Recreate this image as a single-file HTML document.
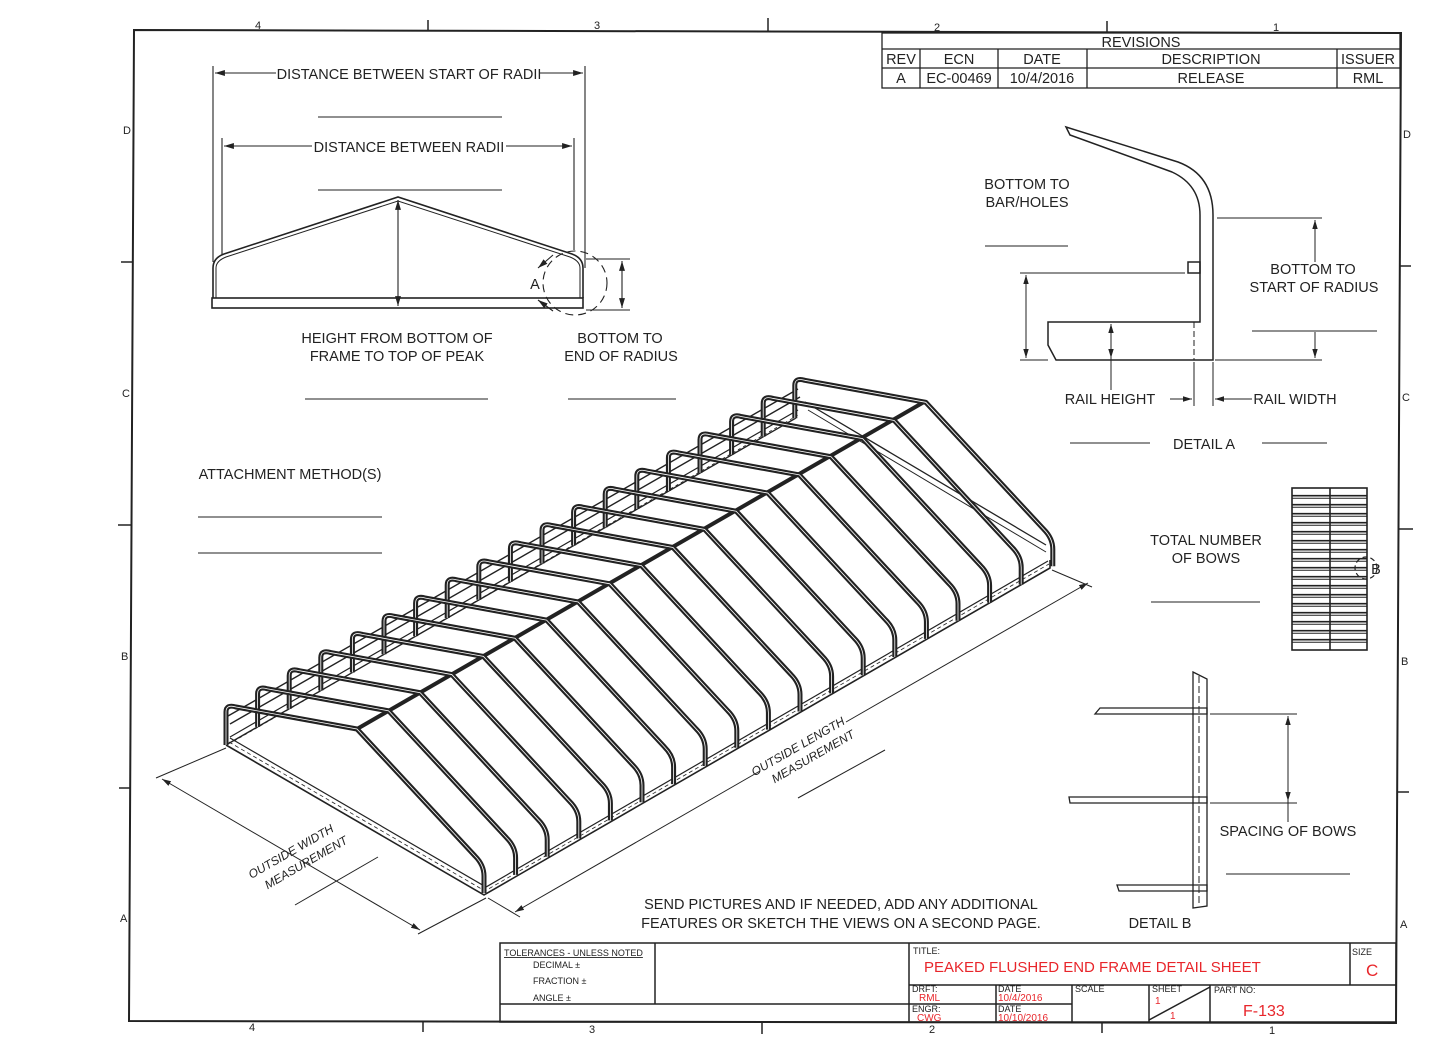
<!DOCTYPE html>
<html><head><meta charset="utf-8"><style>
html,body{margin:0;padding:0;background:#fff}
svg{display:block}
text{font-family:"Liberation Sans",sans-serif;fill:#222}
</style></head><body>
<svg id="s" width="1445" height="1050" viewBox="0 0 1445 1050" xmlns="http://www.w3.org/2000/svg">
<defs>
<marker id="ar" viewBox="0 0 10 10" refX="10" refY="5" markerWidth="9" markerHeight="9" orient="auto-start-reverse"><path d="M0,2 L10,5 L0,8 z" fill="#222"/></marker>
</defs>
<g stroke="#222" fill="none">
<polygon points="134,30 1401,33 1396,1023 129,1021" stroke-width="2"/>
<g stroke-width="1.5">
<line x1="428" y1="20" x2="428" y2="30"/><line x1="1107" y1="21" x2="1107" y2="32"/><line x1="768" y1="18" x2="768" y2="31"/>
<line x1="423" y1="1021" x2="423" y2="1032"/><line x1="1102" y1="1022" x2="1102" y2="1033"/><line x1="762" y1="1022" x2="762" y2="1034"/>
<line x1="121" y1="262" x2="133" y2="262"/><line x1="119" y1="788" x2="131" y2="788"/><line x1="118" y1="525" x2="132" y2="525"/>
<line x1="1400" y1="266" x2="1411" y2="266"/><line x1="1398" y1="792" x2="1409" y2="792"/><line x1="1399" y1="529" x2="1413" y2="529"/>
</g>
<g stroke-width="1.3">
<rect x="882" y="33" width="518" height="55"/>
<line x1="882" y1="49" x2="1400" y2="49"/><line x1="882" y1="68" x2="1400" y2="68"/>
<line x1="920" y1="49" x2="920" y2="88"/><line x1="998" y1="49" x2="998" y2="88"/><line x1="1087" y1="49" x2="1087" y2="88"/><line x1="1337" y1="49" x2="1337" y2="88"/>
</g>
<g stroke-width="1.5">
<rect x="500" y="943" width="896" height="79"/>
<line x1="655" y1="943" x2="655" y2="1004"/><line x1="909" y1="943" x2="909" y2="1022"/><line x1="1350" y1="943" x2="1350" y2="985"/>
<line x1="909" y1="985" x2="1396" y2="985"/><line x1="500" y1="1004" x2="909" y2="1004"/>
<line x1="909" y1="1004" x2="1072" y2="1004"/>
<line x1="996" y1="985" x2="996" y2="1022"/><line x1="1072" y1="985" x2="1072" y2="1022"/><line x1="1149" y1="985" x2="1149" y2="1022"/><line x1="1210" y1="985" x2="1210" y2="1022"/>
<line x1="1149" y1="1020" x2="1210" y2="987"/>
</g>
<g stroke-width="1.1">
<line x1="213" y1="66" x2="213" y2="262"/><line x1="585" y1="66" x2="585" y2="268"/>
<line x1="222" y1="138" x2="222" y2="255"/><line x1="574" y1="138" x2="574" y2="250"/>
<line x1="215" y1="73" x2="276" y2="73" marker-start="url(#ar)"/><line x1="540" y1="73" x2="583" y2="73" marker-end="url(#ar)"/>
<line x1="224" y1="146" x2="312" y2="146" marker-start="url(#ar)"/><line x1="506" y1="146" x2="572" y2="146" marker-end="url(#ar)"/>
<line x1="318" y1="117" x2="502" y2="117"/><line x1="318" y1="190" x2="502" y2="190"/>
<line x1="398" y1="200" x2="398" y2="306" marker-start="url(#ar)" marker-end="url(#ar)"/>
<line x1="586" y1="259" x2="630" y2="259"/><line x1="586" y1="310" x2="630" y2="310"/>
<line x1="622" y1="261" x2="622" y2="308" marker-start="url(#ar)" marker-end="url(#ar)"/>
<circle cx="575" cy="283" r="32" stroke-dasharray="8,5"/>
<line x1="553" y1="255" x2="538" y2="268" marker-end="url(#ar)"/><line x1="553" y1="311" x2="538" y2="300" marker-end="url(#ar)"/>
<line x1="305" y1="399" x2="488" y2="399"/><line x1="568" y1="399" x2="676" y2="399"/>
</g>
<g stroke-width="1.6">
<path d="M213,298 L213,268 Q213,258 224,254 L398,197 L572,254 Q583,258 583,268 L583,298"/>
<path d="M216,298 L216,268 Q216,261 226,257 L398,201 L570,257 Q580,261 580,268 L580,298" stroke-width="1"/>
<rect x="212" y="298" width="371" height="10"/>
</g>
<g stroke-width="1.5">
<path d="M1066,127 L1178,162 Q1213,175 1213,215 L1213,360 L1056,360 L1048,345 L1048,322 L1200,322 L1200,215 Q1200,185 1172,172 L1070,135 Z"/>
<rect x="1188" y="262" width="12" height="11"/>
</g>
<g stroke-width="1">
<line x1="1194" y1="322" x2="1194" y2="360" stroke-dasharray="6,3"/>
<line x1="1217" y1="218" x2="1322" y2="218"/><line x1="1215" y1="360" x2="1322" y2="360"/>
<line x1="1315" y1="262" x2="1315" y2="220" marker-end="url(#ar)"/><line x1="1315" y1="332" x2="1315" y2="358" marker-end="url(#ar)"/>
<line x1="1252" y1="331" x2="1377" y2="331"/>
<line x1="985" y1="246" x2="1068" y2="246"/><line x1="1020" y1="273" x2="1185" y2="273"/><line x1="1020" y1="360" x2="1048" y2="360"/>
<line x1="1026" y1="275" x2="1026" y2="358" marker-start="url(#ar)" marker-end="url(#ar)"/>
<line x1="1111" y1="324" x2="1111" y2="358" marker-start="url(#ar)" marker-end="url(#ar)"/><line x1="1111" y1="358" x2="1111" y2="390"/>
<line x1="1194" y1="362" x2="1194" y2="406"/><line x1="1213" y1="362" x2="1213" y2="406"/>
<line x1="1170" y1="399" x2="1192" y2="399" marker-end="url(#ar)"/><line x1="1252" y1="399" x2="1215" y2="399" marker-end="url(#ar)"/>
<line x1="1070" y1="443" x2="1150" y2="443"/><line x1="1262" y1="443" x2="1327" y2="443"/>
</g>
<g id="grid" stroke-width="1.6"><rect x="1292" y="488" width="75" height="162"/><line x1="1330" y1="488" x2="1330" y2="650"/></g>
<circle cx="1366" cy="568" r="11" stroke-width="1.2" stroke-dasharray="5,3"/>
<line x1="1151" y1="602" x2="1260" y2="602" stroke-width="1"/>
<g stroke-width="1.3">
<path d="M1193,672 L1207,679 L1207,906 L1193,908 Z"/>
<line x1="1199" y1="676" x2="1199" y2="905" stroke-dasharray="7,3" stroke-width="1"/>
<path d="M1100,708 L1207,708 L1207,714 L1095,714 Z"/>
<path d="M1069,797 L1207,797 L1207,803 L1070,803 Z"/>
<path d="M1117,885 L1207,885 L1207,891 L1119,891 Z"/>
</g>
<g stroke-width="1">
<line x1="1210" y1="714" x2="1297" y2="714"/><line x1="1210" y1="803" x2="1297" y2="803"/>
<line x1="1288" y1="716" x2="1288" y2="801" marker-start="url(#ar)" marker-end="url(#ar)"/><line x1="1288" y1="801" x2="1288" y2="822"/>
<line x1="1226" y1="874" x2="1350" y2="874"/>
</g>
<g stroke-width="1"><line x1="198" y1="517" x2="382" y2="517"/><line x1="198" y1="553" x2="382" y2="553"/></g>
<g stroke-width="1">
<line x1="226" y1="748" x2="156" y2="778"/><line x1="486" y1="898" x2="418" y2="934"/>
<line x1="162" y1="779" x2="420" y2="930" marker-start="url(#ar)" marker-end="url(#ar)"/>
<line x1="488" y1="898" x2="520" y2="917"/><line x1="1052" y1="570" x2="1092" y2="587"/>
<line x1="515" y1="912" x2="760" y2="771" marker-start="url(#ar)"/><line x1="846" y1="722" x2="1088" y2="583" marker-end="url(#ar)"/>
<line x1="798" y1="798" x2="885" y2="750"/><line x1="295" y1="905" x2="378" y2="857"/>
</g>
<g id="frame"></g>
</g>
<g font-size="11">
<text x="255" y="29">4</text><text x="594" y="29">3</text><text x="934" y="31">2</text><text x="1273" y="31">1</text>
<text x="249" y="1031">4</text><text x="589" y="1033">3</text><text x="929" y="1033">2</text><text x="1269" y="1034">1</text>
<text x="123" y="134">D</text><text x="122" y="397">C</text><text x="121" y="660">B</text><text x="120" y="922">A</text>
<text x="1403" y="138">D</text><text x="1402" y="401">C</text><text x="1401" y="665">B</text><text x="1400" y="928">A</text>
</g>
<g font-size="14.5" text-anchor="middle">
<text x="1141" y="47">REVISIONS</text>
<text x="901" y="64">REV</text><text x="959" y="64">ECN</text><text x="1042" y="64">DATE</text><text x="1211" y="64">DESCRIPTION</text><text x="1368" y="64">ISSUER</text>
<text x="901" y="83">A</text><text x="959" y="83">EC-00469</text><text x="1042" y="83">10/4/2016</text><text x="1211" y="83">RELEASE</text><text x="1368" y="83">RML</text>
<text x="409" y="79">DISTANCE BETWEEN START OF RADII</text>
<text x="409" y="152">DISTANCE BETWEEN RADII</text>
<text x="397" y="343">HEIGHT FROM BOTTOM OF</text><text x="397" y="361">FRAME TO TOP OF PEAK</text>
<text x="620" y="343">BOTTOM TO</text><text x="621" y="361">END OF RADIUS</text>
<text x="535" y="289">A</text>
<text x="1027" y="189">BOTTOM TO</text><text x="1027" y="207">BAR/HOLES</text>
<text x="1313" y="274">BOTTOM TO</text><text x="1314" y="292">START OF RADIUS</text>
<text x="1110" y="404">RAIL HEIGHT</text><text x="1295" y="404">RAIL WIDTH</text>
<text x="1204" y="449">DETAIL  A</text>
<text x="1206" y="545">TOTAL NUMBER</text><text x="1206" y="563">OF BOWS</text>
<text x="1376" y="574">B</text>
<text x="1288" y="836">SPACING OF BOWS</text>
<text x="1160" y="928">DETAIL  B</text>
<text x="841" y="909">SEND PICTURES AND IF NEEDED, ADD ANY ADDITIONAL</text>
<text x="841" y="928">FEATURES OR SKETCH THE VIEWS ON A SECOND PAGE.</text>
<text x="290" y="479">ATTACHMENT METHOD(S)</text>
</g>
<g font-size="12" font-style="italic" text-anchor="middle">
<text transform="translate(800,750) rotate(-30)">OUTSIDE LENGTH</text>
<text transform="translate(815,760) rotate(-30)">MEASUREMENT</text>
<text transform="translate(293,855) rotate(-30)">OUTSIDE WIDTH</text>
<text transform="translate(308,866) rotate(-30)">MEASUREMENT</text>
</g>
<g font-size="9">
<text x="504" y="956" text-decoration="underline">TOLERANCES - UNLESS NOTED</text>
<text x="533" y="968">DECIMAL ±</text><text x="533" y="984">FRACTION ±</text><text x="533" y="1001">ANGLE ±</text>
<text x="913" y="954">TITLE:</text><text x="1352" y="955">SIZE</text>
<text x="912" y="992">DRFT:</text><text x="998" y="992">DATE</text><text x="1075" y="992">SCALE</text><text x="1152" y="992">SHEET</text><text x="1214" y="993">PART NO:</text>
<text x="912" y="1012">ENGR:</text><text x="998" y="1012">DATE</text>
</g>
<g>
<text x="924" y="972" font-size="15" style="fill:#e8262b">PEAKED FLUSHED  END FRAME DETAIL SHEET</text>
<text x="1366" y="976" font-size="17" style="fill:#e8262b">C</text>
<text x="1243" y="1016" font-size="16" style="fill:#e8262b">F-133</text>
<text x="919" y="1001" font-size="10" style="fill:#e8262b">RML</text>
<text x="998" y="1001" font-size="10" style="fill:#e8262b">10/4/2016</text>
<text x="917" y="1021" font-size="10" style="fill:#e8262b">CWG</text>
<text x="998" y="1021" font-size="10" style="fill:#e8262b">10/10/2016</text>
<text x="1155" y="1004" font-size="10" style="fill:#e8262b">1</text>
<text x="1170" y="1019" font-size="10" style="fill:#e8262b">1</text>
</g>
</svg>
<script>
(function(){
var NS="http://www.w3.org/2000/svg";
var f=document.getElementById('frame');
function el(t,a){var e=document.createElementNS(NS,t);for(var k in a)e.setAttribute(k,a[k]);f.appendChild(e);return e;}
el('path',{d:'M226,745 L796,418',"stroke-width":1.4});
el('path',{d:'M230,737 L798,410',"stroke-width":1.2});
el('path',{d:'M234,741 L800,414',"stroke-width":0.8,"stroke-dasharray":"3,3"});
el('path',{d:'M226,745 L484,895 L1050,568 L1050,560',"stroke-width":1.6});
el('path',{d:'M230,738 L486,887 L1048,561',"stroke-width":1.2});
el('path',{d:'M229,742 L485,891 L1049,564',"stroke-width":0.8,"stroke-dasharray":"4,3"});
el('path',{d:'M228,716 L798,389',"stroke-width":1.4});
el('path',{d:'M230,724 L800,397',"stroke-width":1.4});
el('path',{d:'M357,729 L924,402',"stroke-width":4});
el('path',{d:'M805,402 L1046,545',"stroke-width":1.3});
el('path',{d:'M808,410 L1046,552',"stroke-width":1});
var N=19,dx=31.6,dy=-18.15;
for(var i=N-1;i>=0;i--){
 var x=i*dx,y=i*dy;
 var d='M'+(226+x)+','+(745+y)+' L'+(226+x)+','+(712+y)+' Q'+(226+x)+','+(704+y)+' '+(236+x)+','+(707+y)+' L'+(357+x)+','+(729+y)+' L'+(475+x)+','+(856+y)+' Q'+(484+x)+','+(865+y)+' '+(484+x)+','+(876+y)+' L'+(484+x)+','+(893+y);
 el('path',{d:d,"stroke-width":5,stroke:"#222","stroke-linejoin":"round"});
 el('path',{d:d,"stroke-width":0.8,stroke:"#fff"});
}
var g=document.getElementById('grid');
for(var r=1;r<18;r++){var yy=488+r*9;
 var l=document.createElementNS(NS,'line');l.setAttribute('x1',1292);l.setAttribute('x2',1367);l.setAttribute('y1',yy-1.3);l.setAttribute('y2',yy-1.3);g.appendChild(l);
 var l2=document.createElementNS(NS,'line');l2.setAttribute('x1',1292);l2.setAttribute('x2',1367);l2.setAttribute('y1',yy+1.3);l2.setAttribute('y2',yy+1.3);l2.setAttribute('stroke-width',1);g.appendChild(l2);}
})();
</script>
</body></html>
